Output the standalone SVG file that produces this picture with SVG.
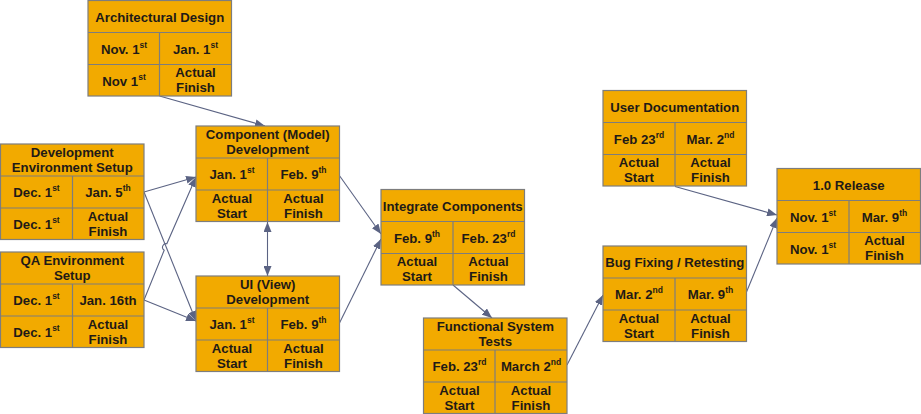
<svg xmlns="http://www.w3.org/2000/svg" width="921" height="414" viewBox="0 0 921 414">
<defs>
<style>
.box rect{fill:#F2AA00;stroke:#7d7d7d;stroke-width:1.2}
.box line{stroke:#7d7d7d;stroke-width:1.2}
.box text{font-family:"Liberation Sans",Arial,sans-serif;font-weight:bold;font-size:13.2px;fill:#1f1a17;text-anchor:middle}
.box tspan.s{font-size:8.5px}
.conn path{fill:none;stroke:#5b6383;stroke-width:1.1}
</style>
<marker id="ah" viewBox="0 0 10 8" refX="10" refY="4" markerWidth="10" markerHeight="8" markerUnits="userSpaceOnUse" orient="auto-start-reverse">
<path d="M0,0 L10,4 L0,8 z" fill="#5b6383"/>
</marker>
</defs>
<rect width="921" height="414" fill="#ffffff"/>

<g class="conn" id="connectors">
<path d="M159.5,96 L265,126" marker-end="url(#ah)"/>
<path d="M144,192 L196,177" marker-end="url(#ah)"/>
<path d="M144,300 L164.2,250.2 A3.5,3.5 0 0 1 166.8,243.8 L196,177" marker-end="url(#ah)"/>
<path d="M144,192 L196,321" marker-end="url(#ah)"/>
<path d="M144,300 L196,321" marker-end="url(#ah)"/>
<path d="M267.5,222 L267.5,276" marker-start="url(#ah)" marker-end="url(#ah)"/>
<path d="M339,175 L381,234" marker-end="url(#ah)"/>
<path d="M339,324 L381,239" marker-end="url(#ah)"/>
<path d="M453,285 L492,318" marker-end="url(#ah)"/>
<path d="M567,365 L603,295" marker-end="url(#ah)"/>
<path d="M675,186.5 L777,215" marker-end="url(#ah)"/>
<path d="M746.5,292 L777,218" marker-end="url(#ah)"/>
</g>

<g class="box" id="architectural-design" transform="translate(88,0.5)">
<rect x="0" y="0" width="143.5" height="95.5"/>
<line x1="0" y1="32" x2="143.5" y2="32"/><line x1="0" y1="64" x2="143.5" y2="64"/><line x1="71.5" y1="32" x2="71.5" y2="95.5"/>
<text x="71.75" y="21">Architectural Design</text>
<text x="36" y="53">Nov. 1<tspan class="s" dy="-6">st</tspan></text>
<text x="107.5" y="53">Jan. 1<tspan class="s" dy="-6">st</tspan></text>
<text x="36" y="85">Nov 1<tspan class="s" dy="-6">st</tspan></text>
<text x="107.5" y="76.5">Actual</text><text x="107.5" y="91.5">Finish</text>
</g>

<g class="box" id="component-development" transform="translate(196,126)">
<rect x="0" y="0" width="143.5" height="95.5"/>
<line x1="0" y1="32" x2="143.5" y2="32"/><line x1="0" y1="64" x2="143.5" y2="64"/><line x1="71.5" y1="32" x2="71.5" y2="95.5"/>
<text x="71.75" y="12.5">Component (Model)</text><text x="71.75" y="27.5">Development</text>
<text x="36" y="53">Jan. 1<tspan class="s" dy="-6">st</tspan></text>
<text x="107.5" y="53">Feb. 9<tspan class="s" dy="-6">th</tspan></text>
<text x="36" y="76.5">Actual</text><text x="36" y="91.5">Start</text>
<text x="107.5" y="76.5">Actual</text><text x="107.5" y="91.5">Finish</text>
</g>

<g class="box" id="development-environment-setup" transform="translate(0.5,144)">
<rect x="0" y="0" width="143.5" height="95.5"/>
<line x1="0" y1="32" x2="143.5" y2="32"/><line x1="0" y1="64" x2="143.5" y2="64"/><line x1="72" y1="32" x2="72" y2="95.5"/>
<text x="71.75" y="12.5">Development</text><text x="71.75" y="27.5">Environment Setup</text>
<text x="36" y="53">Dec. 1<tspan class="s" dy="-6">st</tspan></text>
<text x="107.5" y="53">Jan. 5<tspan class="s" dy="-6">th</tspan></text>
<text x="36" y="85">Dec. 1<tspan class="s" dy="-6">st</tspan></text>
<text x="107.5" y="76.5">Actual</text><text x="107.5" y="91.5">Finish</text>
</g>

<g class="box" id="qa-environment-setup" transform="translate(0.5,252)">
<rect x="0" y="0" width="143.5" height="95.5"/>
<line x1="0" y1="32" x2="143.5" y2="32"/><line x1="0" y1="64" x2="143.5" y2="64"/><line x1="72" y1="32" x2="72" y2="95.5"/>
<text x="71.75" y="12.5">QA Environment</text><text x="71.75" y="27.5">Setup</text>
<text x="36" y="53">Dec. 1<tspan class="s" dy="-6">st</tspan></text>
<text x="107.5" y="53">Jan. 16th</text>
<text x="36" y="85">Dec. 1<tspan class="s" dy="-6">st</tspan></text>
<text x="107.5" y="76.5">Actual</text><text x="107.5" y="91.5">Finish</text>
</g>

<g class="box" id="ui-development" transform="translate(196,276)">
<rect x="0" y="0" width="143.5" height="95.5"/>
<line x1="0" y1="32" x2="143.5" y2="32"/><line x1="0" y1="64" x2="143.5" y2="64"/><line x1="71.5" y1="32" x2="71.5" y2="95.5"/>
<text x="71.75" y="12.5">UI (View)</text><text x="71.75" y="27.5">Development</text>
<text x="36" y="53">Jan. 1<tspan class="s" dy="-6">st</tspan></text>
<text x="107.5" y="53">Feb. 9<tspan class="s" dy="-6">th</tspan></text>
<text x="36" y="76.5">Actual</text><text x="36" y="91.5">Start</text>
<text x="107.5" y="76.5">Actual</text><text x="107.5" y="91.5">Finish</text>
</g>

<g class="box" id="integrate-components" transform="translate(381,189.5)">
<rect x="0" y="0" width="143.5" height="95.5"/>
<line x1="0" y1="32" x2="143.5" y2="32"/><line x1="0" y1="64" x2="143.5" y2="64"/><line x1="72" y1="32" x2="72" y2="95.5"/>
<text x="71.75" y="21">Integrate Components</text>
<text x="36" y="53">Feb. 9<tspan class="s" dy="-6">th</tspan></text>
<text x="107.5" y="53">Feb. 23<tspan class="s" dy="-6">rd</tspan></text>
<text x="36" y="76.5">Actual</text><text x="36" y="91.5">Start</text>
<text x="107.5" y="76.5">Actual</text><text x="107.5" y="91.5">Finish</text>
</g>

<g class="box" id="functional-system-tests" transform="translate(423.5,318)">
<rect x="0" y="0" width="143.5" height="95.5"/>
<line x1="0" y1="32" x2="143.5" y2="32"/><line x1="0" y1="64" x2="143.5" y2="64"/><line x1="71.5" y1="32" x2="71.5" y2="95.5"/>
<text x="71.75" y="12.5">Functional System</text><text x="71.75" y="27.5">Tests</text>
<text x="36" y="53">Feb. 23<tspan class="s" dy="-6">rd</tspan></text>
<text x="107.5" y="53">March 2<tspan class="s" dy="-6">nd</tspan></text>
<text x="36" y="76.5">Actual</text><text x="36" y="91.5">Start</text>
<text x="107.5" y="76.5">Actual</text><text x="107.5" y="91.5">Finish</text>
</g>

<g class="box" id="user-documentation" transform="translate(603,90.5)">
<rect x="0" y="0" width="143.5" height="95.5"/>
<line x1="0" y1="32" x2="143.5" y2="32"/><line x1="0" y1="64" x2="143.5" y2="64"/><line x1="72" y1="32" x2="72" y2="95.5"/>
<text x="71.75" y="21">User Documentation</text>
<text x="36" y="53">Feb 23<tspan class="s" dy="-6">rd</tspan></text>
<text x="107.5" y="53">Mar. 2<tspan class="s" dy="-6">nd</tspan></text>
<text x="36" y="76.5">Actual</text><text x="36" y="91.5">Start</text>
<text x="107.5" y="76.5">Actual</text><text x="107.5" y="91.5">Finish</text>
</g>

<g class="box" id="release-1-0" transform="translate(777,168.5)">
<rect x="0" y="0" width="143.5" height="95.5"/>
<line x1="0" y1="32" x2="143.5" y2="32"/><line x1="0" y1="64" x2="143.5" y2="64"/><line x1="72" y1="32" x2="72" y2="95.5"/>
<text x="71.75" y="21">1.0 Release</text>
<text x="36" y="53">Nov. 1<tspan class="s" dy="-6">st</tspan></text>
<text x="107.5" y="53">Mar. 9<tspan class="s" dy="-6">th</tspan></text>
<text x="36" y="85">Nov. 1<tspan class="s" dy="-6">st</tspan></text>
<text x="107.5" y="76.5">Actual</text><text x="107.5" y="91.5">Finish</text>
</g>

<g class="box" id="bug-fixing-retesting" transform="translate(603,246)">
<rect x="0" y="0" width="143.5" height="95.5"/>
<line x1="0" y1="32" x2="143.5" y2="32"/><line x1="0" y1="64" x2="143.5" y2="64"/><line x1="72" y1="32" x2="72" y2="95.5"/>
<text x="71.75" y="21">Bug Fixing / Retesting</text>
<text x="36" y="53">Mar. 2<tspan class="s" dy="-6">nd</tspan></text>
<text x="107.5" y="53">Mar. 9<tspan class="s" dy="-6">th</tspan></text>
<text x="36" y="76.5">Actual</text><text x="36" y="91.5">Start</text>
<text x="107.5" y="76.5">Actual</text><text x="107.5" y="91.5">Finish</text>
</g>
</svg>
